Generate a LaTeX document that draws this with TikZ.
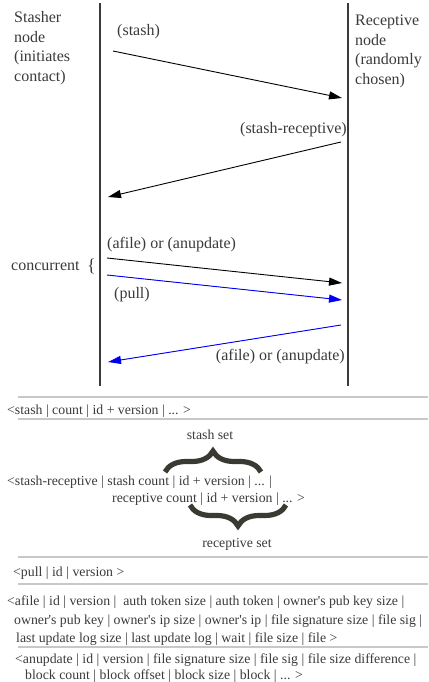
\documentclass[tikz,border=0pt]{standalone}
\usepackage{fontspec}
\setmainfont{Liberation Serif}
\usetikzlibrary{arrows.meta,decorations.pathreplacing}
\definecolor{txtgray}{HTML}{3A3A3A}
\definecolor{rulegray}{HTML}{C8C8C8}
\definecolor{bracegray}{HTML}{3B3A32}
\definecolor{arrblue}{HTML}{0000F0}
\newcommand{\ap}{\textquotesingle}
\begin{document}
\begin{tikzpicture}[x=1pt,y=-1pt,
  txt/.style={anchor=base west, inner sep=0pt, font=\fontsize{13.8}{19}\selectfont, text=txtgray},
  big/.style={txt, font=\fontsize{16}{19}\selectfont},
  ctxt/.style={txt, anchor=base},
  rbig/.style={big, anchor=base east},
  lifeline/.style={draw=txtgray, line width=1.2pt},
  msg/.style={draw=black, line width=0.9pt, -{Triangle[length=13pt,width=8pt]}},
  bmsg/.style={msg, draw=arrblue, fill=arrblue},
  sep/.style={draw=rulegray, line width=1.4pt},
  setbrace/.style={draw=bracegray, line width=5.2pt, decorate, decoration={brace, amplitude=21pt}}]
\useasboundingbox (0,0) rectangle (428,682);
% lifelines
\coordinate (lt) at (100,3); \coordinate (lb) at (100,386);
\coordinate (rt) at (348,3); \coordinate (rb) at (348,386);
\draw[lifeline] (lt) -- (lb);
\draw[lifeline] (rt) -- (rb);
% participants
\node[big] (st1) at (14,23) {Stasher};
\node[big] (st2) at (14,42.5) {node};
\node[big] (st3) at (14,62) {(initiates};
\node[big] (st4) at (14,81.5) {contact)};
\node[big] (re1) at (355,26) {Receptive};
\node[big] (re2) at (355,45.5) {node};
\node[big] (re3) at (355,65) {(randomly};
\node[big] (re4) at (355,84.5) {chosen)};
% messages
\node[big] (lstash) at (117,36) {(stash)};
\coordinate (a1s) at (113,51); \coordinate (a1e) at (342,98);
\draw[msg] (a1s) -- (a1e);
\node[rbig] (lsr) at (347,133) {(stash-receptive)};
\coordinate (a2s) at (341,142); \coordinate (a2e) at (108,197);
\draw[msg] (a2s) -- (a2e);
\node[big] (laf1) at (107,248) {(afile) or (anupdate)};
\node[big] (lconc) at (11,270) {concurrent};
\node[txt, font=\fontsize{18}{19}\selectfont] (cbr) at (87,271) {\{};
\coordinate (a3s) at (107,258); \coordinate (a3e) at (342,283);
\draw[msg] (a3s) -- (a3e);
\coordinate (a4s) at (107,275); \coordinate (a4e) at (342,300);
\draw[bmsg] (a4s) -- (a4e);
\node[big] (lpull) at (114,298) {(pull)};
\coordinate (a5s) at (341,325); \coordinate (a5e) at (108,362);
\draw[bmsg] (a5s) -- (a5e);
\node[rbig] (laf2) at (345,360) {(afile) or (anupdate)};
% formats
\coordinate (r1a) at (18,397); \coordinate (r1b) at (428,397);
\draw[sep] (r1a) -- (r1b);
\node[txt] (fstash) at (7,414) {<stash | count | id + version | ... >};
\coordinate (r2a) at (18,419); \coordinate (r2b) at (428,419);
\draw[sep] (r2a) -- (r2b);
\node[ctxt] (lss) at (210,439) {stash set};
\coordinate (b1a) at (165,472); \coordinate (b1b) at (261,472);
\draw[setbrace] (b1a) -- (b1b);
\node[txt] (fsr1) at (7,485) {<stash-receptive | stash count | id + version | ... |};
\node[txt] (fsr2) at (112,502) {receptive count | id + version | ... >};
\coordinate (b2a) at (286,505); \coordinate (b2b) at (190,505);
\draw[setbrace] (b2a) -- (b2b);
\node[ctxt] (lrs) at (237,547) {receptive set};
\coordinate (r3a) at (18,557); \coordinate (r3b) at (428,557);
\draw[sep] (r3a) -- (r3b);
\node[txt] (fpull) at (13,576) {<pull | id | version >};
\coordinate (r4a) at (18,584); \coordinate (r4b) at (428,584);
\draw[sep] (r4a) -- (r4b);
\node[txt] (faf1) at (7,605) {<afile | id | version | \ auth token size | auth token | owner\ap s pub key size |};
\node[txt] (faf2) at (14,624) {owner\ap s pub key | owner\ap s ip size | owner\ap s ip | file signature size | file sig |};
\node[txt] (faf3) at (16,642) {last update log size | last update log | wait | file size | file >};
\coordinate (r5a) at (18,647); \coordinate (r5b) at (428,647);
\draw[sep] (r5a) -- (r5b);
\node[txt] (fan1) at (15,663) {<anupdate | id | version | file signature size | file sig | file size difference |};
\node[txt] (fan2) at (25,679) {block count | block offset | block size | block | ... >};
\end{tikzpicture}
\end{document}
